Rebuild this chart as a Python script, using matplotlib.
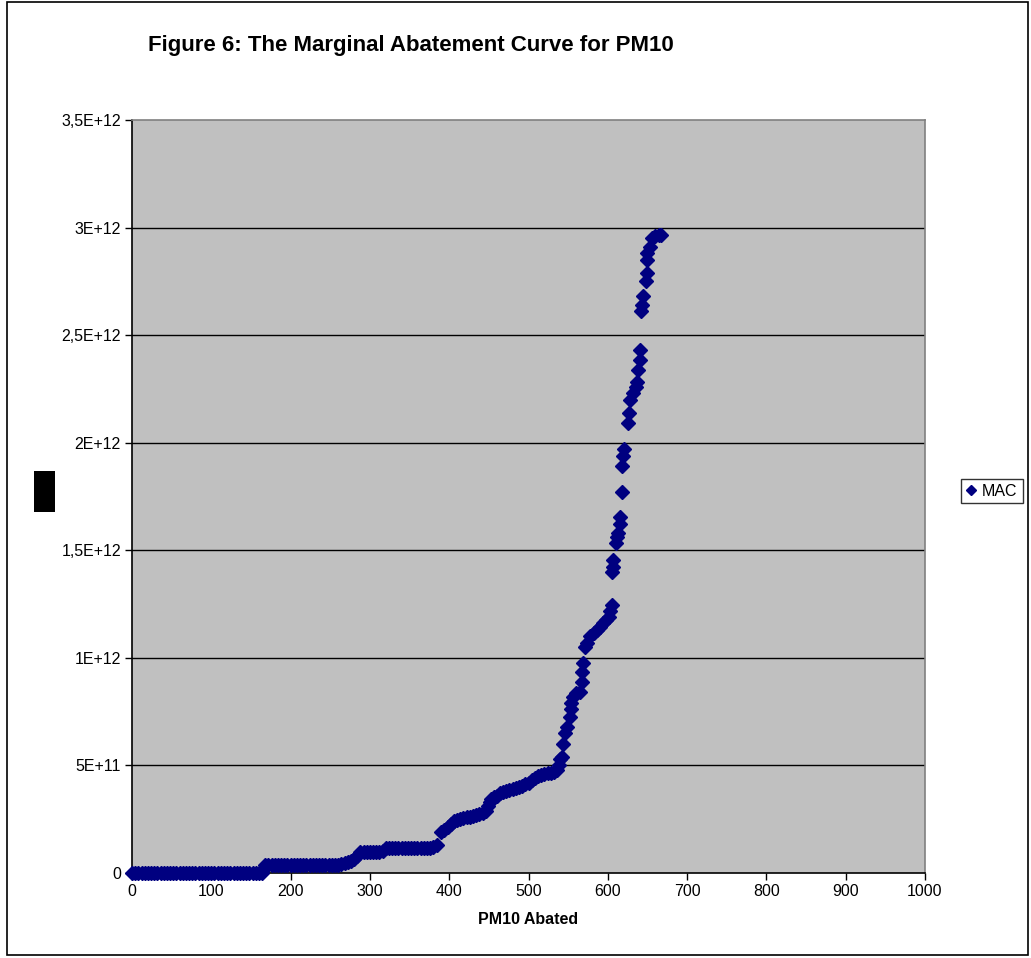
import matplotlib
matplotlib.use("Agg")
import matplotlib.pyplot as plt
from matplotlib.patches import Rectangle
from matplotlib.ticker import FixedLocator

plt.rcParams['font.family'] = ['Liberation Sans', 'DejaVu Sans']

# PM10 abated (tonnes) and marginal abatement cost, cost in units of 1E+12
pm10_abated = [
    0, 4, 8, 12, 16, 20, 24, 28, 32, 36, 40, 44, 48, 52, 56, 60, 64, 68, 72, 76,
    80, 84, 88, 92, 96, 100, 104, 108, 112, 116, 120, 124, 128, 132, 136, 140,
    144, 148, 152, 156, 160, 164,
    168, 172, 176, 180, 184, 188, 192, 196, 200, 204, 208, 212, 216, 220, 224,
    228, 232, 236, 240, 244, 248, 252, 256, 260,
    264, 268, 272, 276, 280, 284,
    288, 292, 296, 300, 304, 308, 312, 316,
    320, 324, 328, 332, 336, 340, 344, 348, 352, 356, 360, 364, 368, 372, 376,
    380, 384,
    390, 394, 398, 402, 406, 410, 414, 418, 422, 426, 430, 434, 438, 442, 446,
    449, 451, 453, 456, 460, 464, 468, 472, 476, 480, 484, 488, 492, 496, 500,
    504, 508, 512, 516, 520, 524, 528, 532, 536, 538, 540, 542,
    544, 546, 549, 552, 553, 554, 556, 560, 565, 567, 568, 569, 571, 574, 578,
    582, 586, 590, 594, 598, 601, 603, 605,
    605, 606, 607, 610, 612, 613, 615, 615, 618, 618, 619, 620,
    625, 627, 628, 632, 635, 637, 638, 640, 641, 642, 643, 644, 648, 650, 649,
    650, 653, 656, 660, 664, 667,
]
mac = [
    0, 0, 0, 0, 0, 0, 0, 0, 0, 0, 0, 0, 0, 0, 0, 0, 0, 0, 0, 0,
    0, 0, 0, 0, 0, 0, 0, 0, 0, 0, 0, 0, 0, 0, 0, 0,
    0, 0, 0, 0, 0, 0,
    0.035, 0.035, 0.035, 0.035, 0.035, 0.035, 0.035, 0.035, 0.035, 0.035, 0.035,
    0.035, 0.035, 0.035, 0.035, 0.035, 0.035, 0.035, 0.035, 0.035, 0.035, 0.035,
    0.035, 0.036,
    0.04, 0.045, 0.05, 0.055, 0.065, 0.08,
    0.098, 0.098, 0.098, 0.098, 0.098, 0.098, 0.098, 0.10,
    0.116, 0.116, 0.116, 0.116, 0.116, 0.116, 0.116, 0.116, 0.116, 0.116, 0.116,
    0.116, 0.116, 0.117, 0.118,
    0.12, 0.13,
    0.19, 0.20, 0.215, 0.23, 0.24, 0.245, 0.25, 0.255, 0.258, 0.262, 0.265,
    0.268, 0.272, 0.28, 0.29,
    0.31, 0.33, 0.345, 0.355, 0.36, 0.37, 0.375, 0.38, 0.385, 0.39, 0.395,
    0.40, 0.405, 0.415, 0.42,
    0.43, 0.44, 0.45, 0.455, 0.46, 0.465, 0.465, 0.47, 0.48, 0.50, 0.53, 0.54,
    0.60, 0.65, 0.68, 0.725, 0.76, 0.79, 0.82, 0.835, 0.84, 0.89, 0.935, 0.975,
    1.05, 1.07, 1.10, 1.115, 1.13, 1.145, 1.16, 1.175, 1.19, 1.22, 1.245,
    1.40, 1.42, 1.455, 1.535, 1.56, 1.58, 1.62, 1.655, 1.77, 1.89, 1.94, 1.97,
    2.09, 2.14, 2.20, 2.23, 2.26, 2.28, 2.34, 2.385, 2.43, 2.61, 2.64, 2.68,
    2.75, 2.79, 2.85, 2.88, 2.91, 2.95, 2.96, 2.965, 2.965,
]

y_ticks = [0, 0.5e12, 1e12, 1.5e12, 2e12, 2.5e12, 3e12, 3.5e12]
y_labels = ['0', '5E+11', '1E+12', '1,5E+12', '2E+12', '2,5E+12', '3E+12', '3,5E+12']
x_ticks = [0, 100, 200, 300, 400, 500, 600, 700, 800, 900, 1000]

navy = '#000080'

fig = plt.figure(figsize=(10.31, 9.58), dpi=100)
ax = fig.add_axes([132 / 1031, 1 - 873 / 958, (925 - 132) / 1031, (873 - 120) / 958])
ax.set_facecolor('#C0C0C0')

ax.plot(pm10_abated, [v * 1e12 for v in mac], linestyle='none', marker='D',
        markersize=7.6, color=navy, markeredgecolor=navy, label='MAC', zorder=3,
        clip_on=False)

ax.set_xlim(0, 1000)
ax.set_ylim(0, 3.5e12)
ax.xaxis.set_major_locator(FixedLocator(x_ticks))
ax.set_xticklabels([str(t) for t in x_ticks])
ax.yaxis.set_major_locator(FixedLocator(y_ticks))
ax.set_yticklabels(y_labels)
ax.tick_params(axis='both', direction='out', length=5, width=1, color='black',
               labelsize=11.5, pad=3)

for y in y_ticks[1:-1]:
    ax.axhline(y, color='black', linewidth=1, zorder=1)

ax.spines['left'].set_color('black')
ax.spines['bottom'].set_color('black')
ax.spines['top'].set_color('#808080')
ax.spines['right'].set_color('#808080')
for s in ax.spines.values():
    s.set_linewidth(1.2)

ax.set_xlabel('PM10 Abated', fontsize=11.5, fontweight='bold', labelpad=9)

fig.text(148 / 1031, 1 - 45 / 958, 'Figure 6: The Marginal Abatement Curve for PM10',
         fontsize=16, fontweight='bold', ha='left', va='center')

# black block where the y-axis title sits
fig.patches.append(Rectangle((34 / 1031, 1 - 512 / 958), 21 / 1031, 41 / 958,
                             transform=fig.transFigure, facecolor='black',
                             edgecolor='none'))

# outer chart border
fig.patches.append(Rectangle((7 / 1031, 3 / 958), 1021 / 1031, 953 / 958,
                             transform=fig.transFigure, facecolor='none',
                             edgecolor='black', linewidth=1.2))

leg = fig.legend(loc='center', bbox_to_anchor=(992 / 1031, 1 - 491 / 958),
                 fontsize=11.5, frameon=True, fancybox=False, handlelength=0.6,
                 handletextpad=0.4, borderpad=0.3, markerscale=0.7)
leg.get_frame().set_edgecolor('black')
leg.get_frame().set_linewidth(1)

fig.savefig('out.png', dpi=100)
